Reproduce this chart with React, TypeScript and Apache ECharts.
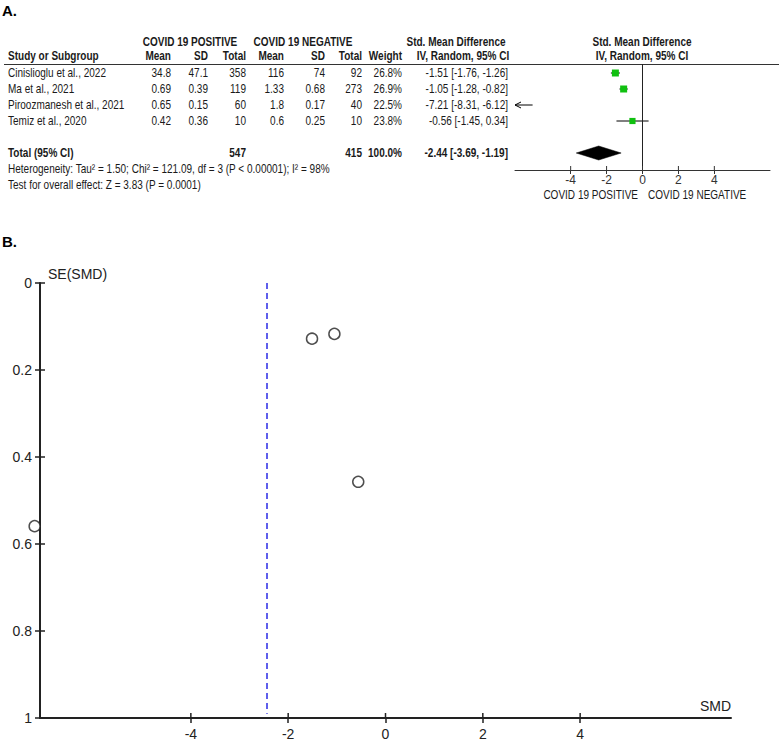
import React, { useEffect, useRef } from 'react';
import * as echarts from 'echarts';

// ---------- data ----------
const studies = ['Cinislioglu et al., 2022', 'Ma et al., 2021', 'Piroozmanesh et al., 2021', 'Temiz et al., 2020'];
const posMean = [34.8, 0.69, 0.65, 0.42];
const posSD = [47.1, 0.39, 0.15, 0.36];
const posTotal = [358, 119, 60, 10];
const negMean = [116, 1.33, 1.8, 0.6];
const negSD = [74, 0.68, 0.17, 0.25];
const negTotal = [92, 273, 40, 10];
const weights = [26.8, 26.9, 22.5, 23.8];
const smd = [-1.51, -1.05, -7.21, -0.56];
const ciLow = [-1.76, -1.28, -8.31, -1.45];
const ciHigh = [-1.26, -0.82, -6.12, 0.34];
const seSMD = [0.128, 0.117, 0.559, 0.457];
const pooledSMD = -2.44;
const pooledLow = -3.69;
const pooledHigh = -1.19;
const totalPos = 547;
const totalNeg = 415;
const totalWeight = '100.0%';
const heterogeneityText = 'Heterogeneity: Tau\u00b2 = 1.50; Chi\u00b2 = 121.09, df = 3 (P < 0.00001); I\u00b2 = 98%';
const overallText = 'Test for overall effect: Z = 3.83 (P = 0.0001)';
const forestTicks = [-4, -2, 0, 2, 4];
const funnelXTicks = [-4, -2, 0, 2, 4];
const funnelYTicks = [0, 0.2, 0.4, 0.6, 0.8, 1];
const groupPos = 'COVID 19 POSITIVE';
const groupNeg = 'COVID 19 NEGATIVE';

// ---------- layout / style ----------
const AX_MIN = -7.1;
const AX_MAX = 7.1;
const FOREST_Y_MIN = -0.5625;
const FOREST_Y_MAX = 6.0625;
const NARROW = "'Liberation Sans Narrow','Arial Narrow','Liberation Sans',Arial,sans-serif";
const SANS = "'Liberation Sans',Arial,sans-serif";
const INK = '#1a1a1a';
const SQUEEZE = 0.835;
const rowY = [73, 89, 105, 121];
const totalY = 153;
const colX = { pm: 171, psd: 208, pt: 246, nm: 284, nsd: 325, nt: 362, w: 402, ci: 508 };

function T(text: string, x: number, y: number, align = 'left', bold = false, size = 12, family = NARROW, color = INK, sx = SQUEEZE) {
  return {
    type: 'text', x, y, scaleX: sx, silent: true,
    style: { text, align, verticalAlign: 'middle', fontSize: size, fontWeight: bold ? 'bold' : 'normal', fontFamily: family, fill: color },
  };
}
const fmtCI = (e: number, l: number, h: number) => `${e.toFixed(2)} [${l.toFixed(2)}, ${h.toFixed(2)}]`;

function buildGraphics() {
  const g: any[] = [];
  g.push(T('A.', 2, 10, 'left', true, 15, SANS, '#000', 1));
  g.push(T('B.', 2, 241, 'left', true, 15, SANS, '#000', 1));
  g.push(T(groupPos, 190, 41.5, 'center', true));
  g.push(T(groupNeg, 303, 41.5, 'center', true));
  g.push(T('Std. Mean Difference', 456, 41.5, 'center', true));
  g.push(T('Std. Mean Difference', 642, 41.5, 'center', true));
  g.push(T('Study or Subgroup', 8, 56, 'left', true));
  g.push(T('Mean', colX.pm, 56, 'right', true));
  g.push(T('SD', colX.psd, 56, 'right', true));
  g.push(T('Total', colX.pt, 56, 'right', true));
  g.push(T('Mean', colX.nm, 56, 'right', true));
  g.push(T('SD', colX.nsd, 56, 'right', true));
  g.push(T('Total', colX.nt, 56, 'right', true));
  g.push(T('Weight', colX.w, 56, 'right', true));
  g.push(T('IV, Random, 95% CI', 463, 56, 'center', true));
  g.push(T('IV, Random, 95% CI', 642, 56, 'center', true));
  g.push({ type: 'line', silent: true, shape: { x1: 4, y1: 64.5, x2: 779, y2: 64.5 }, style: { stroke: '#333', lineWidth: 1 } });
  studies.forEach((s, i) => {
    const y = rowY[i];
    g.push(T(s, 8, y));
    g.push(T(String(posMean[i]), colX.pm, y, 'right'));
    g.push(T(String(posSD[i]), colX.psd, y, 'right'));
    g.push(T(String(posTotal[i]), colX.pt, y, 'right'));
    g.push(T(String(negMean[i]), colX.nm, y, 'right'));
    g.push(T(String(negSD[i]), colX.nsd, y, 'right'));
    g.push(T(String(negTotal[i]), colX.nt, y, 'right'));
    g.push(T(weights[i].toFixed(1) + '%', colX.w, y, 'right'));
    g.push(T(fmtCI(smd[i], ciLow[i], ciHigh[i]), colX.ci, y, 'right'));
  });
  g.push(T('Total (95% CI)', 8, totalY, 'left', true));
  g.push(T(String(totalPos), colX.pt, totalY, 'right', true));
  g.push(T(String(totalNeg), colX.nt, totalY, 'right', true));
  g.push(T(totalWeight, colX.w, totalY, 'right', true));
  g.push(T(fmtCI(pooledSMD, pooledLow, pooledHigh), colX.ci, totalY, 'right', true));
  g.push(T(heterogeneityText, 8, 169));
  g.push(T(overallText, 8, 185));
  g.push(T(groupPos, 638, 195, 'right'));
  g.push(T(groupNeg, 648, 195, 'left'));
  return g;
}

// inner halves of crossing tick marks, placed through the axes' own scales
function tickSeries(xAxisIndex: number, yAxisIndex: number, data: number[][], len: number, color: string, width: number) {
  return {
    type: 'custom', xAxisIndex, yAxisIndex, silent: true, clip: false, z: 5,
    data,
    renderItem: (params: any, api: any) => {
      const p = api.coord([api.value(0), api.value(1)]);
      const vertical = api.value(2) === 1;
      const shape = vertical
        ? { x1: p[0], y1: p[1], x2: p[0], y2: p[1] - len }
        : { x1: p[0], y1: p[1], x2: p[0] + len, y2: p[1] };
      return { type: 'line', shape, style: { stroke: color, lineWidth: width } };
    },
  };
}

function buildOption(): any {
  const forestData = studies.map((_, i) => [i, smd[i], ciLow[i], ciHigh[i], weights[i]]);
  const funnelData = studies.map((_, i) => [smd[i], seSMD[i]]);
  const forestTickData = forestTicks.map((v) => [v, FOREST_Y_MAX, 1]);
  const funnelTickData = [
    ...funnelXTicks.map((v) => [v, 1, 1]),
    ...funnelYTicks.map((v) => [AX_MIN, v, 0]),
  ];
  return {
    animation: false,
    backgroundColor: '#fff',
    graphic: buildGraphics(),
    grid: [
      { left: 515, right: 9, top: 64, bottom: 571 },
      { left: 40, right: 48, top: 283, bottom: 19 },
    ],
    xAxis: [
      {
        gridIndex: 0, type: 'value', min: AX_MIN, max: AX_MAX, position: 'bottom',
        splitLine: { show: false },
        axisLine: { show: true, onZero: false, lineStyle: { color: '#333', width: 1 } },
        axisTick: { show: true, customValues: forestTicks, length: 4, lineStyle: { color: '#333' } },
        axisLabel: { customValues: forestTicks, fontSize: 12, fontFamily: NARROW, color: '#333', margin: 4 },
      },
      {
        gridIndex: 1, type: 'value', min: AX_MIN, max: AX_MAX, position: 'bottom',
        splitLine: { show: false },
        name: 'SMD', nameLocation: 'end', nameGap: 0,
        nameTextStyle: { align: 'right', verticalAlign: 'bottom', padding: [0, 0, 5, 0], fontSize: 14, fontFamily: SANS, color: '#222' },
        axisLine: { show: true, onZero: false, lineStyle: { color: '#222', width: 2 } },
        axisTick: { show: true, customValues: funnelXTicks, length: 5, lineStyle: { color: '#222', width: 1.5 } },
        axisLabel: { customValues: funnelXTicks, fontSize: 14, fontFamily: SANS, color: '#222', margin: 9 },
      },
    ],
    yAxis: [
      { gridIndex: 0, type: 'value', inverse: true, min: FOREST_Y_MIN, max: FOREST_Y_MAX, show: false },
      {
        gridIndex: 1, type: 'value', inverse: true, min: 0, max: 1, interval: 0.2, position: 'left',
        name: 'SE(SMD)', nameLocation: 'start', nameGap: 2,
        nameTextStyle: { align: 'left', verticalAlign: 'bottom', padding: [0, 0, 0, 8], fontSize: 14, fontFamily: SANS, color: '#222' },
        axisLine: { show: true, onZero: false, lineStyle: { color: '#222', width: 2 } },
        axisTick: { show: true, length: 5, lineStyle: { color: '#222', width: 1.5 } },
        axisLabel: { fontSize: 14, fontFamily: SANS, color: '#222', margin: 8 },
        splitLine: { show: false },
      },
    ],
    series: [
      {
        type: 'custom', xAxisIndex: 0, yAxisIndex: 0, silent: true, clip: false,
        data: forestData,
        renderItem: (params: any, api: any) => {
          const row = api.value(0), est = api.value(1), lo = api.value(2), hi = api.value(3), w = api.value(4);
          const y = api.coord([0, row])[1];
          const children: any[] = [];
          const loC = Math.max(lo, AX_MIN), hiC = Math.min(hi, AX_MAX);
          if (hiC > AX_MIN && loC < AX_MAX) {
            const x1 = api.coord([loC, row])[0];
            const x2 = api.coord([hiC, row])[0];
            children.push({ type: 'line', shape: { x1, y1: y, x2, y2: y }, style: { stroke: '#000', lineWidth: 1 } });
            if (lo < AX_MIN) {
              children.push({ type: 'polyline', shape: { points: [[x1 + 6, y - 3], [x1, y], [x1 + 6, y + 3]] }, style: { stroke: '#000', fill: null, lineWidth: 1 } });
            }
          }
          if (est >= AX_MIN && est <= AX_MAX) {
            const s = w * 0.26;
            const cx = api.coord([est, row])[0];
            children.push({ type: 'rect', shape: { x: cx - s / 2, y: y - s / 2, width: s, height: s }, style: { fill: '#10c010', stroke: null } });
          }
          return { type: 'group', children };
        },
        markLine: {
          silent: true, symbol: ['none', 'none'], label: { show: false },
          lineStyle: { color: '#222', width: 1, type: 'solid' },
          data: [{ xAxis: 0 }],
        },
      },
      {
        type: 'custom', xAxisIndex: 0, yAxisIndex: 0, silent: true,
        data: [[5, pooledSMD, pooledLow, pooledHigh]],
        renderItem: (params: any, api: any) => {
          const row = api.value(0);
          const pe = api.coord([api.value(1), row]);
          const pl = api.coord([api.value(2), row]);
          const ph = api.coord([api.value(3), row]);
          return {
            type: 'polygon',
            shape: { points: [[pl[0], pl[1]], [pe[0], pe[1] - 7], [ph[0], ph[1]], [pe[0], pe[1] + 7]] },
            style: { fill: '#000', stroke: '#000', lineWidth: 0.5 },
          };
        },
      },
      tickSeries(0, 0, forestTickData, 4, '#333', 1),
      tickSeries(1, 1, funnelTickData, 5, '#222', 1.5),
      {
        type: 'scatter', xAxisIndex: 1, yAxisIndex: 1, silent: true, clip: false,
        data: funnelData,
        symbol: 'circle', symbolSize: 11,
        itemStyle: { color: '#fff', borderColor: '#222', borderWidth: 1.5 },
        markLine: {
          silent: true, symbol: ['none', 'none'], label: { show: false },
          lineStyle: { color: '#2a2ae6', width: 1.5, type: [6, 4] },
          data: [[{ coord: [pooledSMD, 0] }, { coord: [pooledSMD, 0.99] }]],
        },
      },
    ],
  };
}

export default function App() {
  const ref = useRef<HTMLDivElement>(null);
  useEffect(() => {
    document.body.style.margin = '0';
    const chart = echarts.init(ref.current!, null, { renderer: 'svg' });
    chart.setOption(buildOption());
    return () => chart.dispose();
  }, []);
  return <div ref={ref} style={{ width: 779, height: 741 }} />;
}
